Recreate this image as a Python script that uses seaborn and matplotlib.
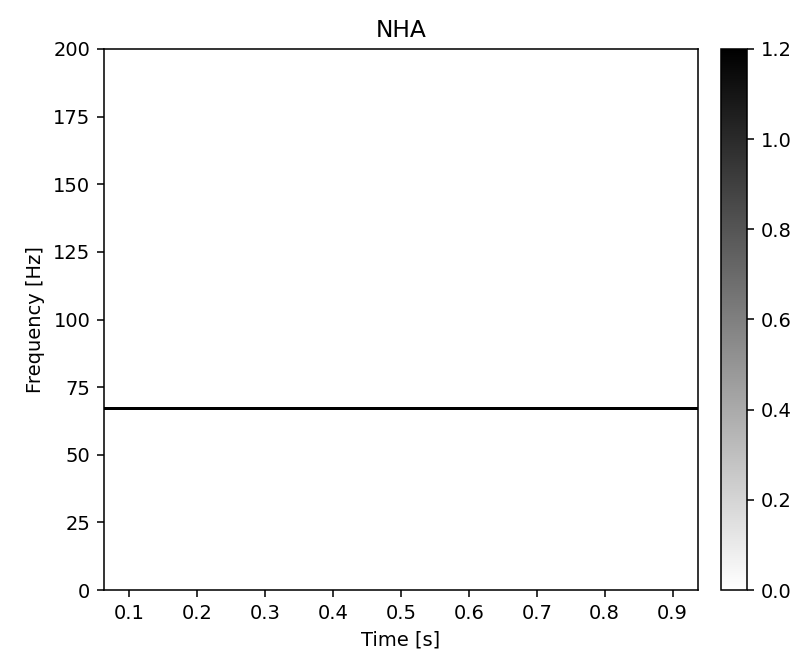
import numpy as np
import matplotlib
matplotlib.use("Agg")
import matplotlib.pyplot as plt
import seaborn as sns

# Spectral map: segment centre times, frequency grid and one steady tone
times = [0.125, 0.25, 0.375, 0.5, 0.625, 0.75, 0.875]
freqs = np.arange(0, 251, 1)
tone_freq = 67
tone_amp = [1.2, 1.2, 1.2, 1.2, 1.2, 1.2, 1.2]

sns.set_style("ticks", {
    "axes.edgecolor": "black",
    "axes.labelcolor": "black",
    "text.color": "black",
    "xtick.color": "black",
    "ytick.color": "black",
    "font.family": ["DejaVu Sans"],
})

amp = np.zeros((len(freqs), len(times)))
amp[list(freqs).index(tone_freq), :] = tone_amp

cmap = sns.color_palette("gray_r", as_cmap=True)

W, H, DPI = 799, 653, 140
fig = plt.figure(figsize=(W / DPI, H / DPI), dpi=DPI)
ax = fig.add_axes([104 / W, 63 / H, 594 / W, 541 / H])
cax = fig.add_axes([721 / W, 63 / H, 26 / W, 541 / H])

mesh = ax.pcolormesh(times, freqs, amp, shading="nearest", cmap=cmap,
                     vmin=0, vmax=1.2)
ax.set_ylim(0, 200)
ax.set_xticks([0.1, 0.2, 0.3, 0.4, 0.5, 0.6, 0.7, 0.8, 0.9])
ax.set_yticks([0, 25, 50, 75, 100, 125, 150, 175, 200])
ax.set_title("NHA")
ax.set_xlabel("Time [s]")
ax.set_ylabel("Frequency [Hz]")
for s in ax.spines.values():
    s.set_visible(True)

fig.colorbar(mesh, cax=cax)

fig.savefig("out.png", dpi=DPI)
